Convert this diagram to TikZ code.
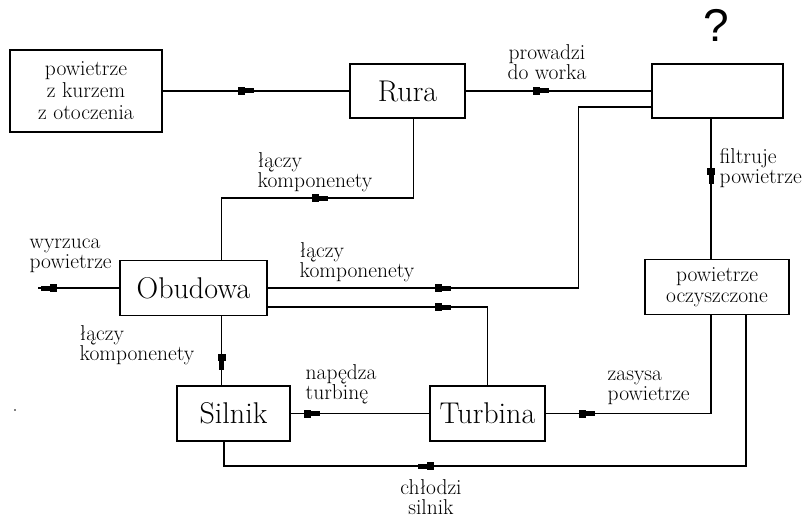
\documentclass[tikz,border=0pt]{standalone}
\usepackage{fontspec}
\usetikzlibrary{decorations.markings}
\newfontfamily\pytajnik{Liberation Sans}

\begin{document}
\begin{tikzpicture}
        [x=1pt,y=-1pt,line width=1.4pt,
         every node/.style={draw,rectangle,inner sep=0pt,font=\fontsize{30}{32}\selectfont},
         FlowMark/.style={postaction={decorate,decoration={markings,
             mark=at position #1 with {\fill (-7pt,-4pt) rectangle (0pt,4pt);
                                      \fill (0pt,-2.5pt) rectangle (9pt,2.5pt);}}}}]
        \useasboundingbox (0,0) rectangle (809,519);
        \node[minimum width=152pt,minimum height=82pt,align=center,
              font=\fontsize{21.5}{22}\selectfont] (Powietrze) at (86,91) {powietrze\\z kurzem\\z otoczenia};
        \node[minimum width=115pt,minimum height=54pt] (Rura) at (407.5,91) {Rura};
        \node[minimum width=131pt,minimum height=54pt] (Worek) at (717.5,91) {};
        \node[minimum width=147pt,minimum height=55pt] (Obudowa) at (193.5,288) {Obudowa};
        \node[minimum width=144pt,minimum height=55pt,align=center,
              font=\fontsize{21.5}{21}\selectfont] (Oczyszczone) at (717,287) {powietrze\\oczyszczone};
        \node[minimum width=113pt,minimum height=55pt] (Silnik) at (233.5,413.5) {Silnik};
        \node[minimum width=115pt,minimum height=55pt] (Turbina) at (487.5,413.5) {Turbina};
        \node[draw=none,font=\pytajnik\fontsize{46}{48}\selectfont] (Pytanie) at (716,25) {?};
        \tikzset{LabelStyle/.style =   {draw=none,
                                  anchor         = west,
                                  align          = left,
                                  font           = \fontsize{21.5}{20}\selectfont}}
        \coordinate (Wylot) at (38,288);
        \coordinate (Zgiecie) at (300,198);
        \coordinate (Dol) at (500,466);
        \foreach \from/\to/\d in {Powietrze/Rura/82pt,Rura/Worek/74pt,Silnik/Turbina/20pt}
            \draw[FlowMark=\d] (\from.east) -- (\to.west);
        \draw[FlowMark=69pt] (Obudowa.west) -- (Wylot);
        \draw[FlowMark=174pt] (Obudowa.east) -| ([xshift=-73pt,yshift=-16pt]Worek.west) -- ([yshift=-16pt]Worek.west);
        \draw[FlowMark=174pt] ([yshift=-19pt]Obudowa.east) -| (Turbina.north);
        \draw[FlowMark=159pt] ([xshift=28pt]Obudowa.north) |- (Zgiecie) -| ([xshift=6pt]Rura.south);
        \draw[FlowMark=45pt] ([xshift=28pt]Obudowa.south) -- ([xshift=-12pt]Silnik.north);
        \draw[FlowMark=40pt] (Turbina.east) -| ([xshift=-6pt]Oczyszczone.south);
        \draw[FlowMark=56pt] ([xshift=-6.5pt]Worek.south) -- ([xshift=-6pt]Oczyszczone.north);
        \draw[FlowMark=470pt] ([xshift=29pt]Oczyszczone.south) |- (Dol) -| ([xshift=-9.5pt]Silnik.south);
        \node[LabelStyle,anchor=center,align=center] (LWorek) at (547,62) {prowadzi\\do worka};
        \node[LabelStyle] (LGora) at (257,172) {łączy\\komponenety};
        \node[LabelStyle] (LSrodek) at (299,262) {łączy\\komponenety};
        \node[LabelStyle] (LWylot) at (29,256) {wyrzuca\\powietrze};
        \node[LabelStyle] (LSilnik) at (79,345) {łączy\\komponenety};
        \node[LabelStyle] (LTurbina) at (305,384) {napędza\\turbinę};
        \node[LabelStyle] (LZasys) at (607,388) {zasysa\\powietrze};
        \node[LabelStyle] (LFiltr) at (719,168) {filtruje\\powietrze};
        \node[LabelStyle,anchor=center,align=center] (LChlodzi) at (431,497) {chłodzi\\silnik};
        \fill (15,410) circle (0.9pt);
    \end{tikzpicture}
\end{document}
